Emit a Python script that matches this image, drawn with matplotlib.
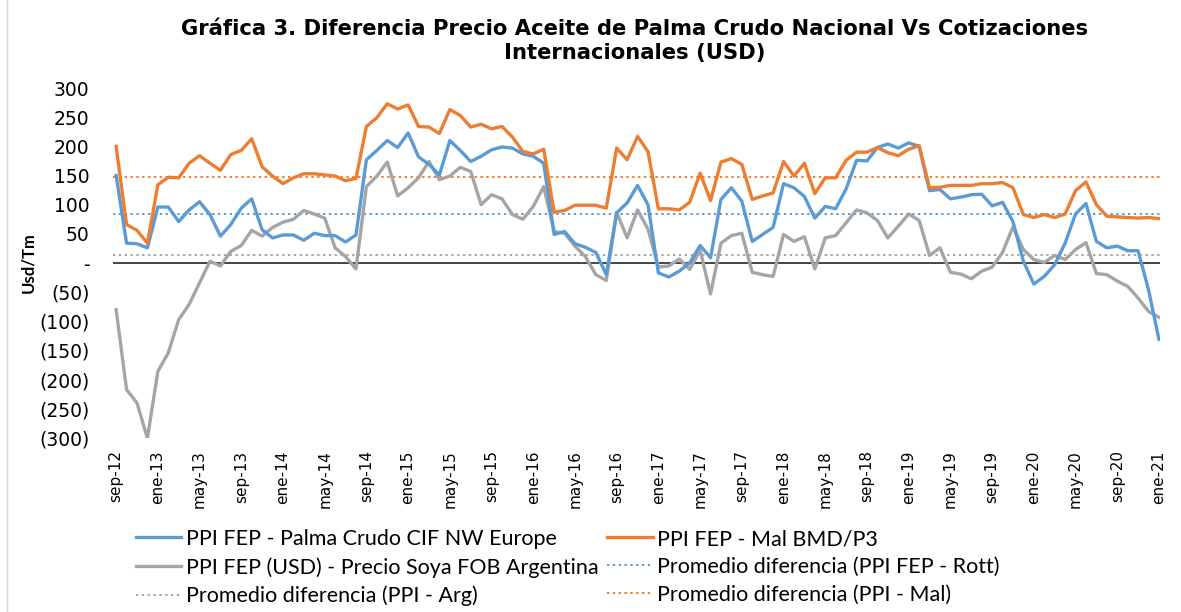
import matplotlib
matplotlib.use("Agg")
import matplotlib.pyplot as plt
from matplotlib.lines import Line2D

# ---------------- data ----------------
tick_labels = ["sep-12", "ene-13", "may-13", "sep-13", "ene-14", "may-14", "sep-14",
               "ene-15", "may-15", "sep-15", "ene-16", "may-16", "sep-16", "ene-17",
               "may-17", "sep-17", "ene-18", "may-18", "sep-18", "ene-19", "may-19",
               "sep-19", "ene-20", "may-20", "sep-20", "ene-21"]

palma_cif_nw_europe = [150, 34, 33, 26, 96, 96, 71, 91, 105, 83, 46, 66, 94, 110, 57, 43,
                       48, 48, 39, 51, 47, 47, 36, 48, 177, 193, 210, 198, 223, 182, 169,
                       151, 210, 193, 174, 183, 194, 199, 197, 187, 183, 171, 49, 54, 33,
                       27, 18, -20, 86, 103, 133, 100, -17, -24, -14, 0, 30, 9, 109, 129,
                       106, 37, 49, 61, 136, 129, 114, 77, 97, 93, 127, 176, 175, 198, 204,
                       197, 206, 200, 124, 126, 110, 113, 117, 118, 98, 104, 71, 3, -36,
                       -23, -3, 34, 84, 102, 37, 26, 29, 21, 21, -46, -131]

mal_bmd_p3 = [200, 66, 56, 34, 134, 147, 146, 171, 184, 171, 159, 186, 193, 213, 165, 149,
              136, 146, 153, 153, 151, 149, 141, 145, 234, 249, 273, 264, 271, 234, 233,
              222, 263, 253, 233, 238, 230, 234, 216, 191, 187, 195, 87, 90, 99, 99, 99,
              94, 197, 177, 217, 191, 93, 93, 91, 104, 154, 107, 173, 179, 169, 109, 115,
              120, 174, 149, 171, 119, 146, 146, 176, 190, 190, 198, 189, 184, 195, 201,
              129, 130, 133, 133, 133, 136, 136, 138, 129, 83, 78, 83, 78, 84, 124, 139,
              100, 80, 79, 78, 77, 78, 76]

soya_fob_argentina = [-80, -217, -240, -300, -186, -154, -97, -71, -34, 3, -5, 20, 30, 56,
                      46, 61, 70, 75, 90, 84, 77, 26, 11, -10, 131, 149, 173, 115, 129, 146,
                      174, 143, 149, 164, 157, 100, 117, 110, 83, 75, 97, 131, 54, 51, 29,
                      11, -20, -30, 87, 43, 91, 58, -7, -5, 7, -11, 22, -53, 34, 47, 51,
                      -16, -20, -23, 49, 37, 45, -10, 43, 47, 69, 91, 86, 73, 43, 63, 84,
                      73, 13, 26, -16, -19, -27, -14, -7, 18, 62, 23, 6, 1, 13, 6, 23, 35,
                      -18, -20, -31, -40, -60, -83, -93]

avg_rott = 84
avg_arg = 13
avg_mal = 147

ytick_values = [300, 250, 200, 150, 100, 50, 0, -50, -100, -150, -200, -250, -300]
ytick_labels = ["300", "250", "200", "150", "100", "50", "-", "(50)", "(100)", "(150)",
                "(200)", "(250)", "(300)"]

legend_labels = ["PPI FEP - Palma Crudo CIF NW Europe",
                 "PPI FEP - Mal BMD/P3",
                 "PPI FEP (USD) - Precio Soya FOB Argentina",
                 "Promedio diferencia (PPI FEP - Rott)",
                 "Promedio diferencia (PPI - Arg)",
                 "Promedio diferencia (PPI - Mal)"]

title = ("Gráfica 3. Diferencia Precio Aceite de Palma Crudo Nacional Vs Cotizaciones\n"
         "Internacionales (USD)")

# ---------------- style ----------------
BLUE = "#5B9BD5"
ORANGE = "#ED7D31"
GRAY = "#A5A5A5"

W, H = 1181, 612
fig = plt.figure(figsize=(W / 100, H / 100), dpi=100)
ax = fig.add_axes([113 / W, 1 - 438 / H, (1160 - 113) / W, (438 - 88) / H])

x = list(range(len(palma_cif_nw_europe)))

ax.axhline(0, color="#262626", lw=1.2, zorder=1)
l_rott = ax.axhline(avg_rott, color=BLUE, lw=1.4, ls=(0, (1.2, 1.8)), zorder=2)
l_arg = ax.axhline(avg_arg, color=GRAY, lw=1.4, ls=(0, (1.2, 1.8)), zorder=2)
l_mal = ax.axhline(avg_mal, color=ORANGE, lw=1.4, ls=(0, (1.2, 1.8)), zorder=2)

l_gray, = ax.plot(x, soya_fob_argentina, color=GRAY, lw=2.4, zorder=3,
                  solid_joinstyle="round")
l_blue, = ax.plot(x, palma_cif_nw_europe, color=BLUE, lw=2.4, zorder=4,
                  solid_joinstyle="round")
l_orange, = ax.plot(x, mal_bmd_p3, color=ORANGE, lw=2.4, zorder=5,
                    solid_joinstyle="round")

ax.set_xlim(-0.3, 100.1)
ax.set_ylim(-300, 300)
for s in ax.spines.values():
    s.set_visible(False)

ax.set_yticks(ytick_values)
ax.set_yticklabels(ytick_labels, fontsize=13.5, color="#000000")
ax.set_xticks(list(range(0, len(x), 4)))
ax.set_xticklabels(tick_labels, rotation=90, fontsize=11, color="#000000")
ax.tick_params(axis="y", length=0, pad=17)
ax.tick_params(axis="x", length=0, pad=9)

fig.text(28 / W, 1 - 263 / H, "Usd/Tm", rotation=90, ha="center", va="center",
         fontsize=12, fontweight="bold", family="Lato")

fig.text(635 / W, 1 - 41 / H, title, ha="center", va="center", fontsize=15.2,
         fontweight="bold", linespacing=1.25)

handles = [l_blue, l_gray, l_arg, l_orange, l_rott, l_mal]
labels = [legend_labels[0], legend_labels[2], legend_labels[4],
          legend_labels[1], legend_labels[3], legend_labels[5]]
leg = fig.legend(handles, labels, loc="upper left",
                 bbox_to_anchor=(136 / W, 1 - 529 / H), ncol=2, frameon=False,
                 prop={"family": "Lato", "size": 15.5}, handlelength=2.1,
                 handletextpad=0.2, columnspacing=0.43, labelspacing=0.37,
                 borderaxespad=0, borderpad=0)

fig.add_artist(Line2D([7 / W, 7 / W], [0, 1], color="#D9D9D9", lw=1))

fig.savefig("out.png", dpi=100)
